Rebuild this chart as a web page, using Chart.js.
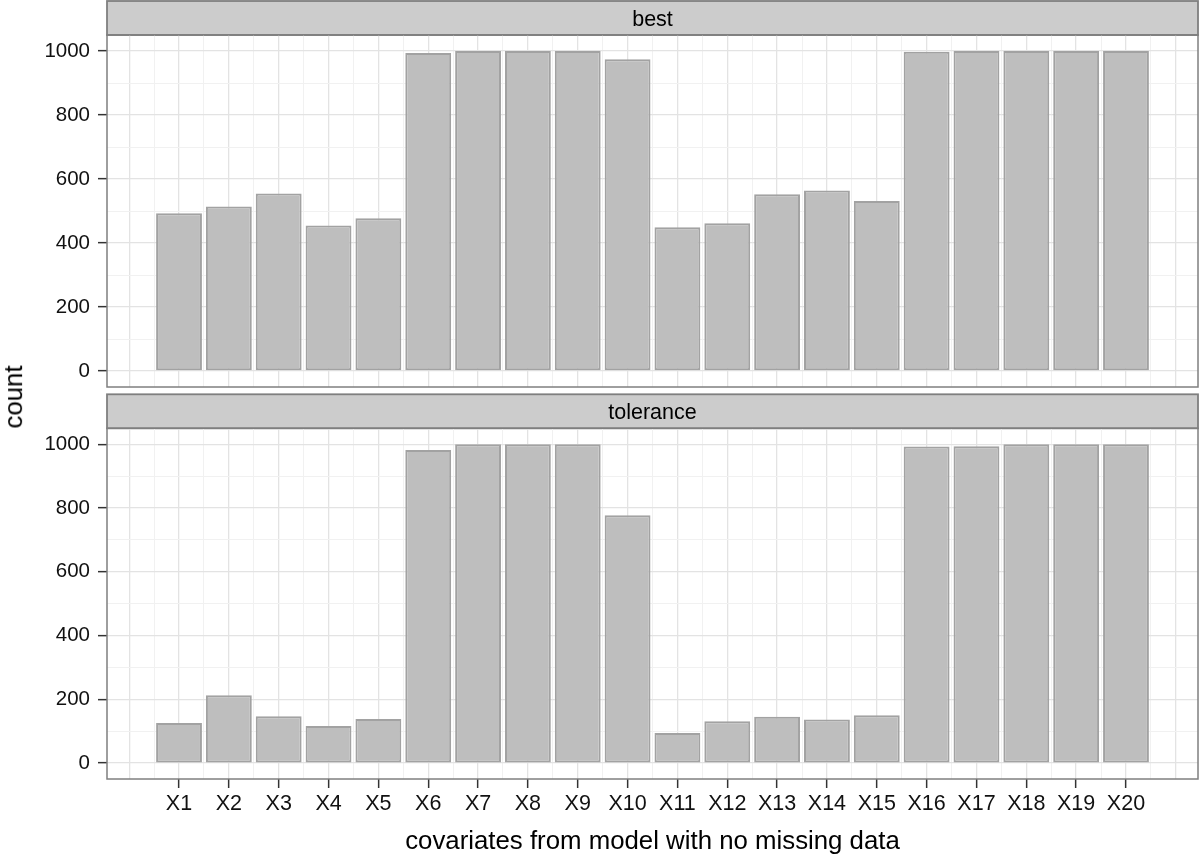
<!DOCTYPE html>
<html>
<head>
<meta charset="utf-8">
<script src="https://cdn.jsdelivr.net/npm/chart.js@4"></script>
<style>
  html, body { margin: 0; background: #fff; }
  #wrap { position: relative; width: 1200px; height: 859px; font-family: "Liberation Sans", Arial, sans-serif; }
  canvas { position: absolute; left: 0; }
  #ylab { position: absolute; left: 14px; top: 397px; transform: translate(-50%, -50%) rotate(-90deg);
          font-size: 25.8px; line-height: 1; white-space: nowrap; color: #000; }
</style>
</head>
<body>
<div id="wrap">
  <canvas id="best" width="1200" height="390" style="top:0"></canvas>
  <canvas id="tolerance" width="1200" height="469" style="top:390px"></canvas>
  <div id="ylab">count</div>
</div>
<script>
const covariates = ['X1', 'X2', 'X3', 'X4', 'X5', 'X6', 'X7', 'X8', 'X9', 'X10',
  'X11', 'X12', 'X13', 'X14', 'X15', 'X16', 'X17', 'X18', 'X19', 'X20'];
const bestCounts = [493, 514, 555, 455, 477, 994, 1000, 1000, 1000, 974,
  449, 462, 552, 564, 531, 998, 1000, 1000, 1000, 1000];
const toleranceCounts = [126, 213, 147, 116, 138, 982, 1000, 1000, 1000, 777,
  94, 131, 145, 137, 150, 993, 994, 1000, 1000, 1000];
const yTicks = [0, 100, 200, 300, 400, 500, 600, 700, 800, 900, 1000];
const xMajor = [0, ...covariates.map((c, i) => i + 1), 21];
const xMinor = xMajor.slice(0, -1).map(v => v + 0.5);

Chart.defaults.font.family = '"Liberation Sans", Arial, sans-serif';

// strip on top of the panel + grey frame round it (facet look)
const panelFrame = {
  id: 'panelFrame',
  beforeDraw(chart, args, opts) {
    const { ctx, chartArea: a } = chart;
    ctx.save();
    ctx.fillStyle = '#cccccc';
    ctx.fillRect(a.left, a.top - 34, a.right - a.left, 34);
    ctx.strokeStyle = '#7f7f7f';
    ctx.lineWidth = 1.8;
    ctx.strokeRect(a.left, a.top - 34, a.right - a.left, 34);
    ctx.fillStyle = '#000';
    ctx.font = '21.5px "Liberation Sans", Arial, sans-serif';
    ctx.textAlign = 'center';
    ctx.textBaseline = 'alphabetic';
    ctx.fillText(opts.label, (a.left + a.right) / 2, a.top - 17 + 8);
    ctx.restore();
  },
  afterDraw(chart) {
    const { ctx, chartArea: a } = chart;
    ctx.save();
    ctx.strokeStyle = '#7f7f7f';
    ctx.lineWidth = 1.5;
    ctx.strokeRect(a.left, a.top, a.right - a.left, a.bottom - a.top);
    ctx.restore();
  }
};

function makeChart(id, counts, label, showX, padTop) {
  return new Chart(document.getElementById(id), {
    type: 'bar',
    data: {
      datasets: [{
        data: counts.map((v, i) => ({ x: i + 1, y: v })),
        backgroundColor: '#bebebe',
        borderColor: '#a2a2a2',
        borderWidth: 2,
        borderSkipped: false,
        barPercentage: 0.92,
        categoryPercentage: 1
      }]
    },
    options: {
      responsive: false,
      animation: false,
      events: [],
      layout: { padding: { top: padTop, right: 2, left: 0, bottom: 0 } },
      plugins: { legend: { display: false }, tooltip: { enabled: false }, panelFrame: { label } },
      scales: {
        x: {
          type: 'linear', min: -0.445, max: 21.445, offset: false,
          afterBuildTicks: s => { s.ticks = xMajor.map(v => ({ value: v })); },
          afterFit: s => { s.height = showX ? 80 : 3; s.paddingLeft = 0; s.paddingRight = 0; },
          grid: {
            offset: false,
            color: '#e3e3e3', lineWidth: 1.3, drawTicks: showX, tickLength: 9, tickWidth: 1.5,
            tickColor: c => (c.tick && c.tick.value >= 1 && c.tick.value <= 20) ? '#333' : 'rgba(0,0,0,0)'
          },
          border: { display: false },
          ticks: {
            display: showX, autoSkip: false, maxRotation: 0, minRotation: 0, padding: 3,
            color: '#111', font: { size: 21.5 },
            callback: v => (v >= 1 && v <= 20) ? covariates[v - 1] : ''
          },
          title: {
            display: showX, text: 'covariates from model with no missing data', color: '#000',
            font: { size: 25.8 }, padding: { top: 0, bottom: 1.5 }
          }
        },
        x2: {
          type: 'linear', position: 'bottom', min: -0.445, max: 21.445, offset: false,
          afterBuildTicks: s => { s.ticks = xMinor.map(v => ({ value: v })); },
          afterFit: s => { s.height = 0; s.paddingLeft = 0; s.paddingRight = 0; },
          grid: { offset: false, color: '#f1f1f1', lineWidth: 1, drawTicks: false },
          border: { display: false },
          ticks: { display: false }
        },
        y: {
          min: -50, max: 1050,
          afterBuildTicks: s => { s.ticks = yTicks.map(v => ({ value: v })); },
          afterFit: s => { s.width = 107; s.paddingTop = 0; s.paddingBottom = 0; },
          grid: {
            color: c => (c.tick && c.tick.value % 200 === 0) ? '#e3e3e3' : '#f1f1f1',
            lineWidth: c => (c.tick && c.tick.value % 200 === 0) ? 1.3 : 1,
            tickLength: 9, tickWidth: 1.5,
            tickColor: c => (c.tick && c.tick.value % 200 === 0) ? '#333' : 'rgba(0,0,0,0)'
          },
          border: { display: false },
          ticks: {
            padding: 8, color: '#111', font: { size: 20.5 },
            callback: v => v % 200 === 0 ? String(v) : ''
          }
        }
      }
    },
    plugins: [panelFrame]
  });
}

makeChart('best', bestCounts, 'best', false, 35);
makeChart('tolerance', toleranceCounts, 'tolerance', true, 38.3);
</script>
</body>
</html>
